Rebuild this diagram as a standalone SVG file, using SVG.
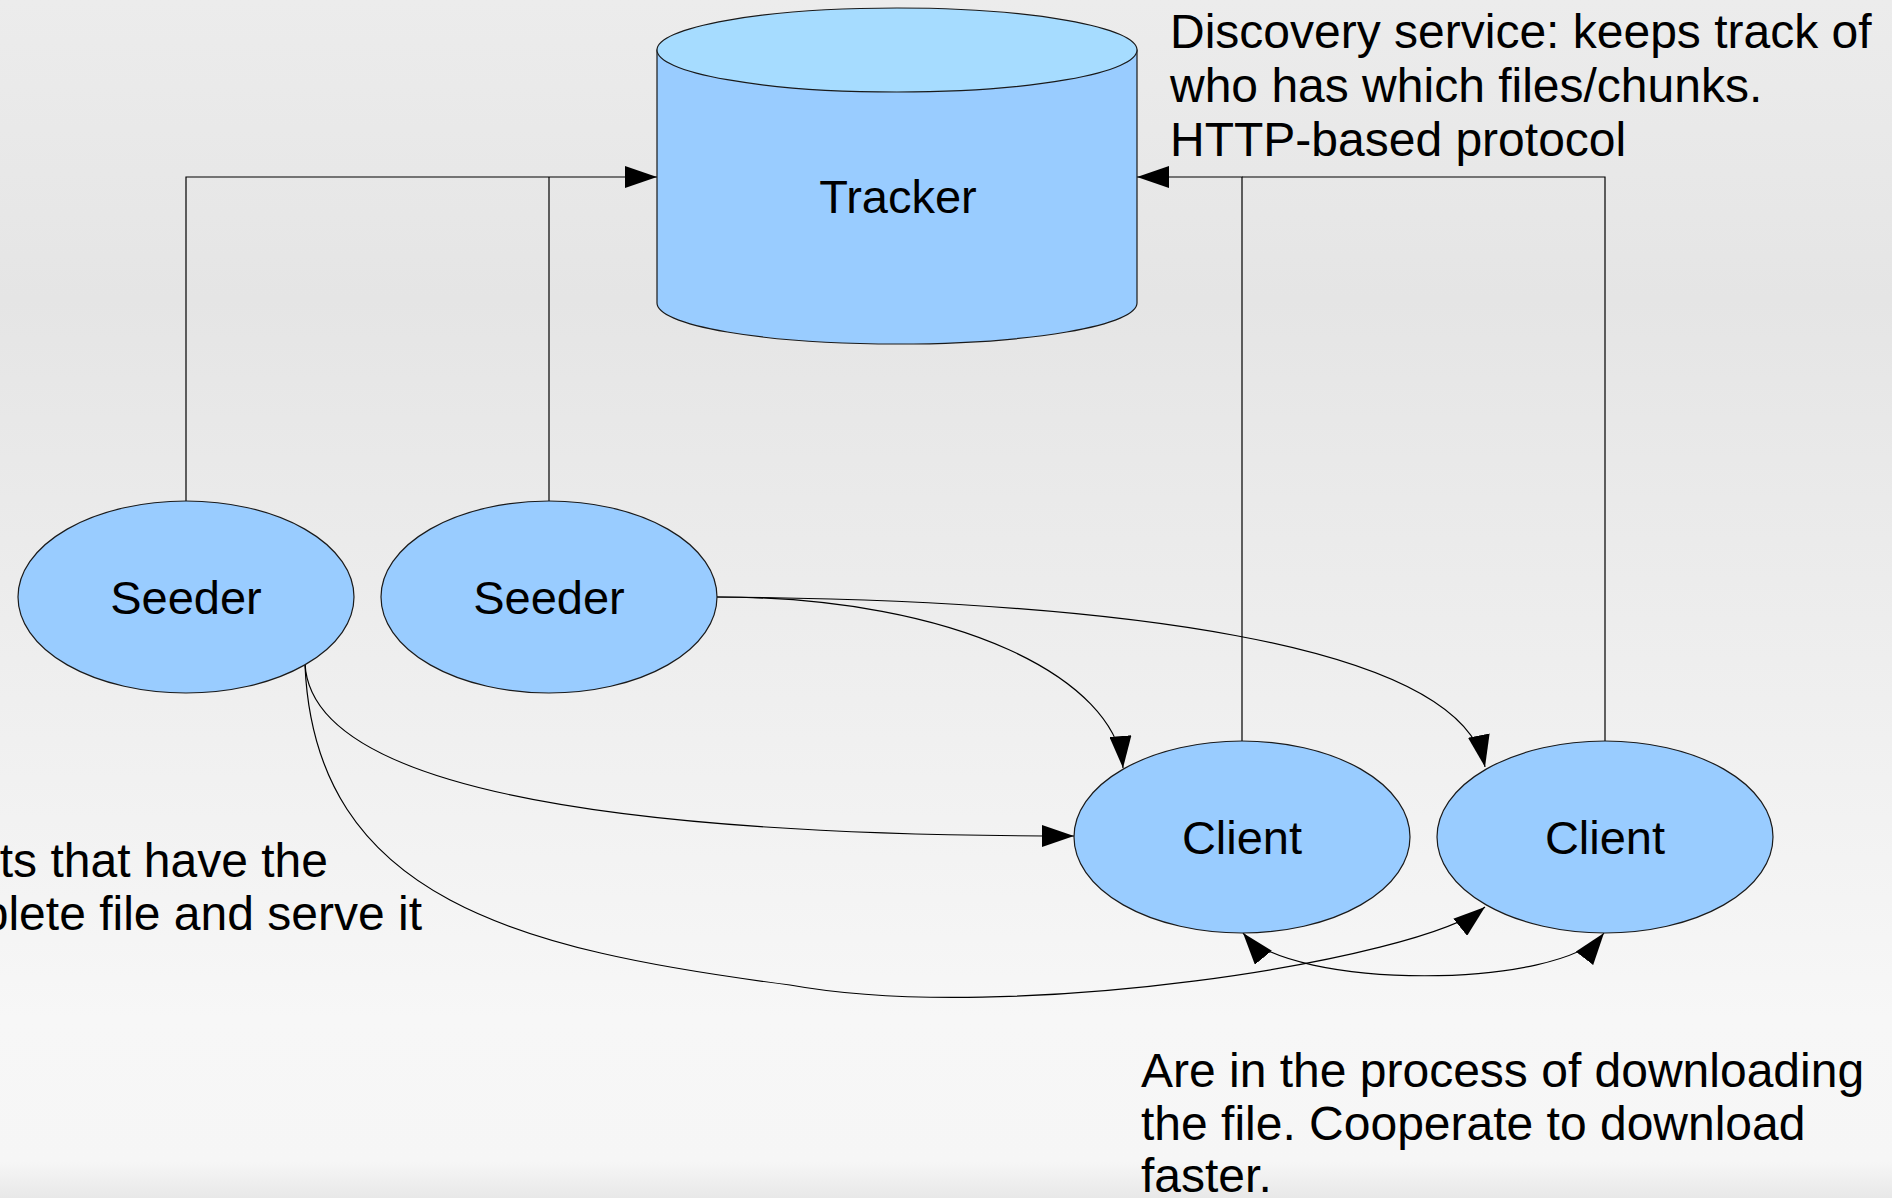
<svg xmlns="http://www.w3.org/2000/svg" width="1892" height="1198" viewBox="0 0 1892 1198">
<defs>
<linearGradient id="bg" x1="0" y1="0" x2="0" y2="1">
<stop offset="0" stop-color="#ececec"/>
<stop offset="0.25" stop-color="#e5e5e5"/>
<stop offset="0.85" stop-color="#f7f7f7"/>
<stop offset="0.97" stop-color="#f6f6f6"/>
<stop offset="1" stop-color="#e8e8e8"/>
</linearGradient>
<marker id="arr" markerUnits="userSpaceOnUse" markerWidth="32" markerHeight="22" refX="32" refY="11" orient="auto-start-reverse" viewBox="0 0 32 22">
<path d="M0,0 L32,11 L0,22 Z" fill="#000"/>
</marker>
<style>
.node{fill:#99ccff;stroke:#1a1a1a;stroke-width:1.2}
.top{fill:#a6dcff;stroke:#1a1a1a;stroke-width:1.2}
.lbl{font-family:"Liberation Sans",Arial,sans-serif;font-size:47px;fill:#000;text-anchor:middle}
.note{font-family:"Liberation Sans",Arial,sans-serif;font-size:48px;fill:#000}
.c{fill:none;stroke:#000;stroke-width:1.2}
</style>
</defs>
<rect x="0" y="0" width="1892" height="1198" fill="url(#bg)"/>

<g id="connectors">
<path class="c" d="M186,501 V177 H657" marker-end="url(#arr)"/>
<path class="c" d="M549,501 V177"/>
<path class="c" d="M1242,741 V177 H1137" marker-end="url(#arr)"/>
<path class="c" d="M1605,741 V177 H1242"/>
<path class="c" d="M717,597 C960,597 1116,680 1123,768" marker-end="url(#arr)"/>
<path class="c" d="M717,597 C1100,600 1460,640 1485,767" marker-end="url(#arr)"/>
<path class="c" d="M305,663 C310,790 620,836 1074,836" marker-end="url(#arr)"/>
<path class="c" d="M305,665 C315,900 520,950 790,985 C1010,1025 1420,960 1485,907" marker-end="url(#arr)"/>
<path class="c" d="M1243,933 C1290,990 1560,990 1604,933" marker-start="url(#arr)" marker-end="url(#arr)"/>
</g>

<g id="tracker">
<path class="node" d="M657,50 V303 A240,41 0 0 0 1137,303 V50 Z"/>
<ellipse class="top" cx="897" cy="50" rx="240" ry="42"/>
<text class="lbl" x="898" y="213">Tracker</text>
</g>
<g id="seeder1">
<ellipse class="node" cx="186" cy="597" rx="168" ry="96"/>
<text class="lbl" x="186" y="614">Seeder</text>
</g>
<g id="seeder2">
<ellipse class="node" cx="549" cy="597" rx="168" ry="96"/>
<text class="lbl" x="549" y="614">Seeder</text>
</g>
<g id="client1">
<ellipse class="node" cx="1242" cy="837" rx="168" ry="96"/>
<text class="lbl" x="1242" y="854">Client</text>
</g>
<g id="client2">
<ellipse class="node" cx="1605" cy="837" rx="168" ry="96"/>
<text class="lbl" x="1605" y="854">Client</text>
</g>

<g id="notes">
<text class="note" x="1170" y="48">Discovery service: keeps track of</text>
<text class="note" x="1170" y="102">who has which files/chunks.</text>
<text class="note" x="1170" y="156">HTTP-based protocol</text>
<text class="note" x="328" y="877" text-anchor="end">ts that have the</text>
<text class="note" x="422" y="930" text-anchor="end">plete file and serve it</text>
<text class="note" x="1141" y="1087">Are in the process of downloading</text>
<text class="note" x="1141" y="1140">the file. Cooperate to download</text>
<text class="note" x="1141" y="1192">faster.</text>
</g>
</svg>
